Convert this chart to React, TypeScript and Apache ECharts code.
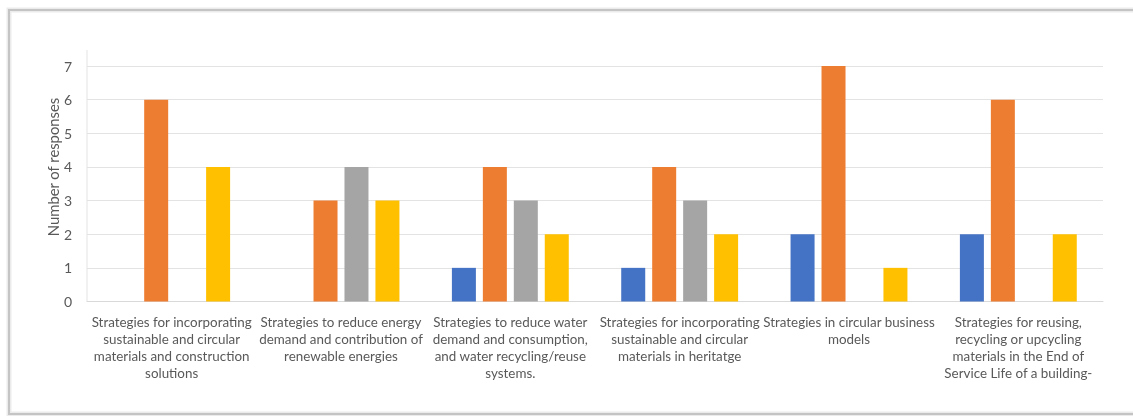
import React, { useEffect, useRef } from "react";
import * as echarts from "echarts";

// Survey results: number of responses per strategy group
const categories = [
  "Strategies for incorporating\nsustainable and circular\nmaterials and construction\nsolutions",
  "Strategies to reduce energy\ndemand and contribution of\nrenewable energies",
  "Strategies to reduce water\ndemand and consumption,\nand water recycling/reuse\nsystems.",
  "Strategies for incorporating\nsustainable and circular\nmaterials in heritatge",
  "Strategies in circular business\nmodels",
  "Strategies for reusing,\nrecycling or upcycling\nmaterials in the End of\nService Life of a building-",
];

const seriesBlue = [0, 0, 1, 1, 2, 2];
const seriesOrange = [6, 3, 4, 4, 7, 6];
const seriesGray = [0, 4, 3, 3, 0, 0];
const seriesYellow = [4, 3, 2, 2, 1, 2];

const yTicks = { min: 0, max: 7, interval: 1 };
const yAxisTitle = "Number of responses";

const FONT = "Lato, 'Open Sans', sans-serif";
const TEXT = "#595959";

// open frame around the chart (it runs past the right page edge)
const framePoints = [
  [1300, 10],
  [9, 10],
  [9, 414],
  [1300, 414],
];

export default function App() {
  const ref = useRef<HTMLDivElement>(null);

  useEffect(() => {
    if (!ref.current) return;
    const chart = echarts.init(ref.current, undefined, { renderer: "svg" });

    const bar = (name: string, data: number[], color: string) => ({
      name,
      type: "bar",
      data,
      barWidth: 24,
      barGap: "29%",
      itemStyle: { color },
    });

    chart.setOption({
      animation: false,
      textStyle: { fontFamily: FONT },
      grid: { left: 87, right: 30, top: 66, bottom: 114.5 },
      xAxis: {
        type: "category",
        data: categories,
        axisLine: { lineStyle: { color: "#D9D9D9", width: 1 } },
        axisTick: { show: false },
        axisLabel: {
          interval: 0,
          color: TEXT,
          fontFamily: FONT,
          fontSize: 13.4,
          lineHeight: 17,
          margin: 12,
          align: "center",
        },
      },
      yAxis: {
        type: "value",
        min: yTicks.min,
        max: yTicks.max,
        interval: yTicks.interval,
        axisLine: { show: false },
        axisTick: { show: false },
        splitLine: { lineStyle: { color: "#E3E3E3", width: 1 } },
        axisLabel: { color: TEXT, fontFamily: FONT, fontSize: 14, margin: 15 },
      },
      series: [
        bar("Blue", seriesBlue, "#4472C4"),
        bar("Orange", seriesOrange, "#ED7D31"),
        bar("Gray", seriesGray, "#A5A5A5"),
        bar("Yellow", seriesYellow, "#FFC000"),
      ],
      graphic: [
        {
          // soft halo under the frame
          type: "polyline",
          z: -11,
          shape: { points: framePoints },
          style: { fill: "none", stroke: "rgba(0,0,0,0.08)", lineWidth: 5 },
        },
        {
          type: "polyline",
          z: -10,
          shape: { points: framePoints },
          style: { fill: "none", stroke: "#C4C4C4", lineWidth: 2 },
        },
        {
          type: "line",
          z: 5,
          shape: { x1: 87, y1: 50, x2: 87, y2: 301.5 },
          style: { stroke: "#E3E3E3", lineWidth: 1 },
        },
        {
          type: "text",
          x: 53,
          y: 167,
          rotation: Math.PI / 2,
          style: {
            text: yAxisTitle,
            fill: TEXT,
            font: `14.8px ${FONT}`,
            align: "center",
            verticalAlign: "middle",
          },
        },
      ],
    });

    return () => chart.dispose();
  }, []);

  return (
    <div
      ref={ref}
      style={{ position: "fixed", left: 0, top: 0, width: 1133, height: 416 }}
    />
  );
}
